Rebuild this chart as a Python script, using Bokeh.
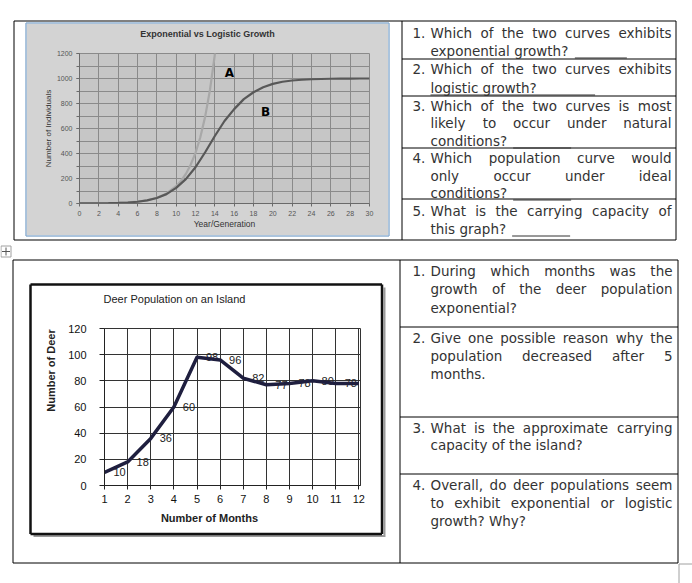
import math
from bokeh.plotting import figure
from bokeh.models import Range1d, GridBox, SingleIntervalTicker, FixedTicker
from bokeh.embed import file_html
from bokeh.resources import INLINE
from bokeh.core.properties import value

# ---------------- data ----------------
years = list(range(0, 31))
logistic = [0.5, 1, 1.5, 2.5, 4.5, 8, 14, 25, 44, 75, 125, 195, 290, 410, 540, 660,
            755, 835, 890, 930, 957, 974, 984, 990, 994, 996, 998, 999, 999, 1000, 1000]
exp_years = [0, 1, 2, 3, 4, 5, 6, 7, 8, 9, 10, 10.5, 11, 11.5, 12, 12.5, 13, 13.5, 14, 14.5]
exponential = [0.6, 1, 1.7, 3, 5, 8.8, 15, 26, 46, 80, 138, 180, 236, 310, 405, 530, 695, 910, 1190, 1560]

months = [1, 2, 3, 4, 5, 6, 7, 8, 9, 10, 11, 12]
deer = [10, 18, 36, 60, 98, 96, 82, 77, 78, 80, 78, 78]
deer_labels = [str(v) for v in deer]

top_title = "Exponential vs Logistic Growth"
top_xlabel = "Year/Generation"
top_ylabel = "Number of Individuals"
bot_title = "Deer Population on an Island"
bot_xlabel = "Number of Months"
bot_ylabel = "Number of Deer"

top_questions = [
    ("1.", [("Which of the two curves exhibits", True), ("exponential growth?", False)]),
    ("2.", [("Which of the two curves exhibits", True), ("logistic growth?", False)]),
    ("3.", [("Which of the two curves is most", True), ("likely to occur under natural", True), ("conditions?", False)]),
    ("4.", [("Which population curve would", True), ("only occur under ideal", True), ("conditions?", False)]),
    ("5.", [("What is the carrying capacity of", True), ("this graph?", False)]),
]
bot_questions = [
    ("1.", [("During which months was the", True), ("growth of the deer population", True), ("exponential?", False)]),
    ("2.", [("Give one possible reason why the", True), ("population decreased after 5", True), ("months.", False)]),
    ("3.", [("What is the approximate carrying", True), ("capacity of the island?", False)]),
    ("4.", [("Overall, do deer populations seem", True), ("to exhibit exponential or logistic", True), ("growth? Why?", False)]),
]

# ---------------- layout constants ----------------
W, H = 692, 583
TXT_FONT = "DejaVu Sans"
TXT_SIZE = 13.5
TXT_COLOR = "#333333"
ARIAL = "Liberation Sans"

top_line_y = [[32, 50], [68, 87], [105, 122, 140], [157, 175, 192], [210, 228]]
bot_line_y = [[270, 288, 307], [337, 355, 373], [427, 444], [484, 502, 520]]

CW = {' ': .318, '!': .401, ',': .318, '.': .318, '?': .531, '_': .5,
      'A': .684, 'B': .686, 'C': .698, 'D': .770, 'E': .632, 'F': .575, 'G': .775, 'H': .752,
      'I': .295, 'O': .787, 'T': .611, 'W': .989, 'Y': .611,
      'a': .613, 'b': .635, 'c': .550, 'd': .635, 'e': .615, 'f': .352, 'g': .635, 'h': .634,
      'i': .278, 'j': .278, 'k': .579, 'l': .278, 'm': .974, 'n': .634, 'o': .612, 'p': .635,
      'q': .635, 'r': .411, 's': .521, 't': .392, 'u': .634, 'v': .592, 'w': .818, 'x': .592,
      'y': .592, 'z': .525}


def tw(s, size):
    return sum(CW.get(c, .636) for c in s) * size


# ---------------- top chart ----------------
p1 = figure(width=362, height=212, x_range=Range1d(0, 30), y_range=Range1d(0, 1200),
            output_backend="svg", toolbar_location=None,
            min_border_left=53, min_border_right=19, min_border_top=30, min_border_bottom=32)
p1.border_fill_color = "#d3d3d3"
p1.background_fill_color = "#c6c6c6"
p1.outline_line_color = "#8a8a8a"
p1.xaxis.ticker = SingleIntervalTicker(interval=2, num_minor_ticks=0)
p1.yaxis.ticker = SingleIntervalTicker(interval=200, num_minor_ticks=2)
for ax in (p1.xaxis, p1.yaxis):
    ax.major_label_text_font = ARIAL
    ax.major_label_text_font_size = "7px"
    ax.major_label_text_color = "#555555"
    ax.axis_line_color = "#6a6a6a"
    ax.major_tick_line_color = "#6a6a6a"
    ax.minor_tick_line_color = "#6a6a6a"
    ax.major_tick_out = 3
    ax.major_tick_in = 0
    ax.minor_tick_in = 0
    ax.minor_tick_out = 3
    ax.major_label_standoff = 4
p1.xgrid.grid_line_color = "#8a8a8a"
p1.ygrid.grid_line_color = "#8a8a8a"
p1.ygrid.minor_grid_line_color = "#8a8a8a"
p1.line(exp_years, exponential, line_color="#a8a8a8", line_width=2.2)
p1.line(years, logistic, line_color="#585858", line_width=2.2)

# ---------------- bottom chart ----------------
p2 = figure(width=349, height=247, x_range=Range1d(1, 12.07), y_range=Range1d(0, 120),
            output_backend="svg", toolbar_location=None,
            min_border_left=73, min_border_right=20, min_border_top=43, min_border_bottom=47)
p2.border_fill_color = "white"
p2.background_fill_color = "white"
p2.outline_line_color = "#333333"
p2.xaxis.ticker = FixedTicker(ticks=months)
p2.yaxis.ticker = SingleIntervalTicker(interval=20, num_minor_ticks=0)
for ax in (p2.xaxis, p2.yaxis):
    ax.major_label_text_font = ARIAL
    ax.major_label_text_font_size = "11px"
    ax.major_label_text_color = "#111111"
    ax.axis_line_color = "#222222"
    ax.major_tick_line_color = "#222222"
    ax.major_tick_in = 0
    ax.minor_tick_line_color = None
p2.yaxis.major_tick_out = 5
p2.yaxis.major_label_standoff = 13
p2.xaxis.major_tick_out = 4
p2.xaxis.major_label_standoff = 5
p2.xgrid.grid_line_color = "#333333"
p2.ygrid.grid_line_color = "#333333"
p2.text(months, deer, text=deer_labels, x_offset=15, text_align="center", text_baseline="middle",
        text_font=value(ARIAL), text_font_size="11px", text_color="#222222")
p2.line(months, deer, line_color="#1f1f3f", line_width=3.5, line_join="round")

# ---------------- page overlay ----------------
bg = figure(width=W, height=H, x_range=Range1d(0, W), y_range=Range1d(H, 0),
            output_backend="svg", toolbar_location=None, min_border=0,
            x_axis_type=None, y_axis_type=None)
bg.grid.visible = False
bg.outline_line_color = None
bg.background_fill_color = None
bg.border_fill_color = None


def seg(x0, y0, x1, y1, color="black", width=1):
    bg.segment([x0], [y0], [x1], [y1], line_color=color, line_width=width)


def box(x0, y0, x1, y1, color="black", width=1):
    bg.segment([x0, x1, x0, x0], [y0, y0, y0, y1], [x1, x1, x0, x1], [y0, y1, y1, y1],
               line_color=color, line_width=width)


# top table
box(13.5, 20.5, 675.5, 239.5)
seg(401.5, 20.5, 401.5, 239.5)
for yy in (58.5, 95.5, 147.5, 198.5):
    seg(401.5, yy, 675.5, yy)
box(25.5, 22.5, 388.5, 235.5, color="#8fb1d2", width=1.5)

# bottom table
box(12.5, 259.5, 677.5, 562.5)
seg(399.5, 259.5, 399.5, 562.5)
for yy in (326.5, 416.5, 473.5):
    seg(399.5, yy, 677.5, yy)
seg(384, 287, 384, 536.5, color="#9a9a9a", width=2)
seg(33, 535.5, 384, 535.5, color="#9a9a9a", width=2)
box(30, 284, 381.5, 533.5, color="#111111", width=2.5)

# small box bottom right, move icon
box(678.5, 563.5, 700, 600, color="#a0a0a0")
box(0.5, 245.5, 10.5, 256.5, color="#a0a0a0")
seg(5.5, 247, 5.5, 255, color="#555555")
seg(1.5, 251, 9.5, 251, color="#555555")

# chart texts
bg.text([207], [33], text=[top_title], text_align="center", text_baseline="middle",
        text_font=value(ARIAL), text_font_style="bold", text_font_size="9px", text_color="#333333")
bg.text([224], [223], text=[top_xlabel], text_align="center", text_baseline="middle",
        text_font=value(ARIAL), text_font_size="8.5px", text_color="#333333")
bg.text([48], [128], text=[top_ylabel], text_align="center", text_baseline="middle", angle=math.pi / 2,
        text_font=value(ARIAL), text_font_size="8px", text_color="#333333")
bg.text([229, 265], [72, 111], text=["A", "B"], text_align="center", text_baseline="middle",
        text_font=value("DejaVu Sans"), text_font_style="bold", text_font_size="12px", text_color="black")
bg.text([174], [298], text=[bot_title], text_align="center", text_baseline="middle",
        text_font=value(ARIAL), text_font_size="11px", text_color="#222222")
bg.text([209], [517], text=[bot_xlabel], text_align="center", text_baseline="middle",
        text_font=value(ARIAL), text_font_style="bold", text_font_size="11px", text_color="#222222")
bg.text([50], [370], text=[bot_ylabel], text_align="center", text_baseline="middle", angle=math.pi / 2,
        text_font=value(ARIAL), text_font_style="bold", text_font_size="11px", text_color="#222222")

# question texts
NUM_X_TOP, L_TOP, R_TOP = 412, 430, 671
NUM_X_BOT, L_BOT, R_BOT = 412, 430, 672


def layout_questions(qs, ys, nx, L, R):
    lx, ly, lt, rx, ry, rt, ends = [], [], [], [], [], [], []
    for (num, lines), yl in zip(qs, ys):
        lx.append(nx); ly.append(yl[0]); lt.append(num)
        for (txt, just), y in zip(lines, yl):
            if just:
                words = txt.split()
                widths = [tw(w, TXT_SIZE) for w in words]
                gap = (R - L - sum(widths)) / (len(words) - 1)
                x = L
                for w, wd in zip(words[:-1], widths[:-1]):
                    lx.append(x); ly.append(y); lt.append(w)
                    x += wd + gap
                rx.append(R); ry.append(y); rt.append(words[-1])
            else:
                lx.append(L); ly.append(y); lt.append(txt)
                ends.append((L + tw(txt, TXT_SIZE), y))
    common = dict(text_baseline="middle", text_font=value(TXT_FONT), text_font_size=f"{TXT_SIZE}px",
                  text_color=TXT_COLOR)
    bg.text(lx, ly, text=lt, text_align="left", **common)
    bg.text(rx, ry, text=rt, text_align="right", **common)
    return ends


ends_top = layout_questions(top_questions, top_line_y, NUM_X_TOP, L_TOP, R_TOP)
blank_len = [52, 52, 58, 58, 58]
for i, (ex, ey) in enumerate(ends_top):
    x0 = ex + 6
    if i == 1:
        seg(L_TOP, ey + 7.5, ex + 6 + blank_len[i], ey + 7.5, color="#333333")
    else:
        seg(x0, ey + 7.5, x0 + blank_len[i], ey + 7.5, color="#333333")

layout_questions(bot_questions, bot_line_y, NUM_X_BOT, L_BOT, R_BOT)

grid = GridBox(children=[(p1, 1, 1, 1, 3), (p2, 3, 2, 1, 1), (bg, 0, 0, 5, 5)],
               rows=["23px", "212px", "50px", "247px", "51px"],
               cols=["26px", "5px", "349px", "8px", "304px"],
               width=W, height=H,
               styles={"position": "absolute", "left": "0px", "top": "0px"})

open("out.html", "w").write(file_html(grid, INLINE))
